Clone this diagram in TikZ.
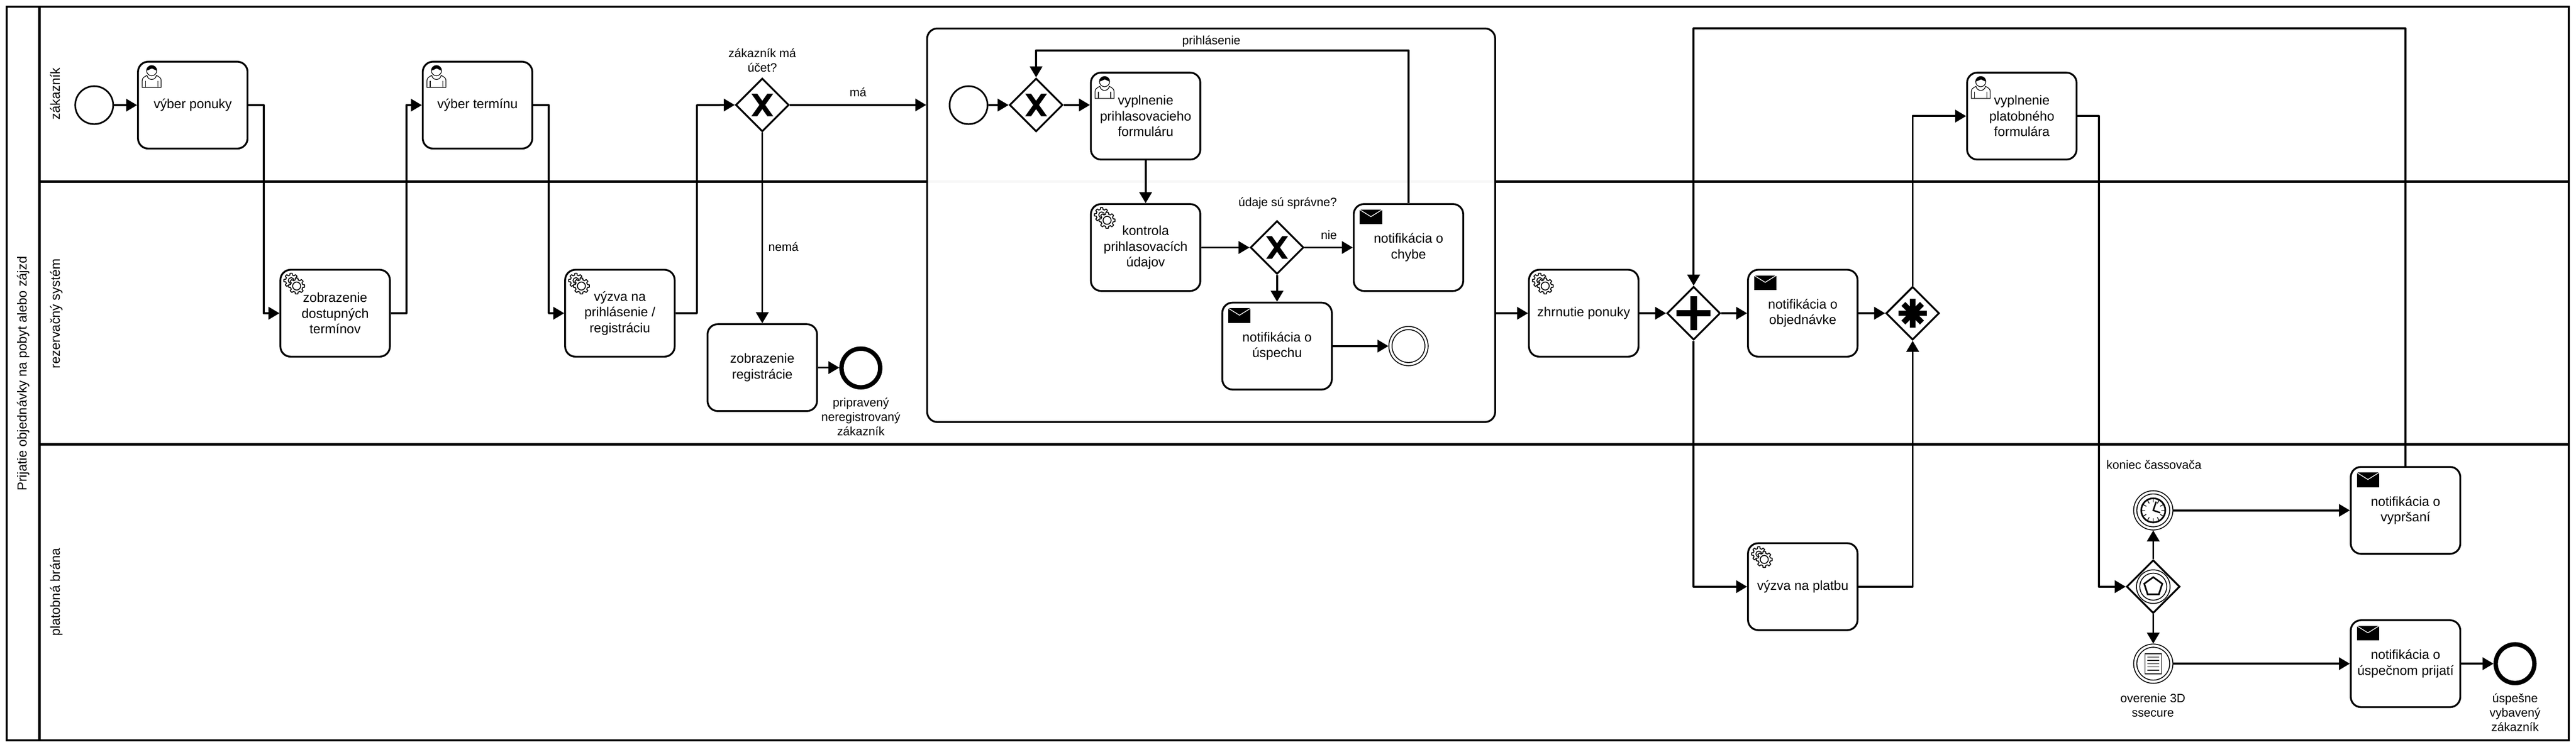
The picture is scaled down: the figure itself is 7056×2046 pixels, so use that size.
\documentclass[tikz,border=0pt]{standalone}
\usepackage{fontspec}
\setmainfont{Liberation Sans}
\usetikzlibrary{arrows.meta,shapes.geometric}

\tikzset{
  lane/.style={line width=6pt},
  lanelabel/.style={rotate=90,anchor=base,inner sep=0pt,font=\fontsize{36}{43}\selectfont},
  task/.style={draw,fill=white,rounded corners=28pt,line width=5pt,minimum width=300pt,minimum height=238pt,
    inner sep=0pt,align=center,font=\fontsize{36}{43}\selectfont},
  subproc/.style={draw,fill=white,fill opacity=0.97,rounded corners=28pt,line width=5pt,inner sep=0pt,
    minimum width=1556pt,minimum height=1078pt},
  gateway/.style={draw,fill=white,diamond,aspect=1,line width=5pt,minimum size=146pt,inner sep=0pt},
  startev/.style={draw,fill=white,circle,line width=4.5pt,minimum size=104pt,inner sep=0pt},
  endev/.style={draw,fill=white,circle,line width=12pt,minimum size=106pt,inner sep=0pt},
  doubleev/.style={draw,fill=white,circle,line width=2.6pt,double,double distance=6pt,outer sep=5.6pt,
    minimum size=98.8pt,inner sep=0pt},
  lbl/.style={inner sep=0pt,align=center,font=\fontsize{33}{39.5}\selectfont},
  flow/.style={line width=5.3pt,line join=round,-{Triangle[length=30pt,width=34pt]}},
  % Task icons, origin at the corner of the task
  usericon/.pic={
    \begin{scope}[shift={(14,13)},line width=1.8pt]
      \draw (0,60) -- (0,42) .. controls (0,34) and (4,32) .. (13,27) .. controls (16,42) and (36,42) .. (39,27)
        .. controls (48,32) and (52,34) .. (52,42) -- (52,60) -- cycle;
      \draw (9,42) -- (9,60);
      \draw (43,42) -- (43,60);
      \draw[fill=white] (26,14) circle[radius=14];
      \fill (12,14) .. controls (12,-4) and (40,-4) .. (40,14) .. controls (32,12) and (28,6) .. (24,9)
        .. controls (20,12) and (16,12) .. cycle;
    \end{scope}
  },
  gearicon/.pic={
    \begin{scope}[line width=2.5pt,line join=round]
      \draw[fill=white,shift={(32,32)}] (-22.5:15) \foreach \a in {0,45,...,315} {
        -- (\a-14:15) -- (\a-9:20) -- (\a+9:20) -- (\a+14:15) -- (\a+22.5:15)} -- cycle (0,0) circle[radius=8];
      \draw[fill=white,shift={(47,47)}] (-22.5:17) \foreach \a in {0,45,...,315} {
        -- (\a-14:17) -- (\a-9:22) -- (\a+9:22) -- (\a+14:17) -- (\a+22.5:17)} -- cycle (0,0) circle[radius=11];
    \end{scope}
  },
  mailicon/.pic={
    \fill (19,18) rectangle (80,58);
    \draw[white,line width=2pt] (19,18) -- (49.5,37) -- (80,18);
  },
  % Gateway markers
  xmark/.pic={
    \fill (-30,-31) -- (-14,-31) -- (30,31) -- (14,31) -- cycle;
    \fill (30,-31) -- (14,-31) -- (-30,31) -- (-14,31) -- cycle;
  },
  plusmark/.pic={
    \fill (-46.5,-9) rectangle (46.5,9);
    \fill (-9,-46.5) rectangle (9,46.5);
  },
  starmark/.pic={
    \foreach \a/\r in {0/39,90/39,45/36,135/36} {
      \draw[line width=15pt] (\a:-\r) -- (\a:\r);
    }
  },
  pentamark/.pic={
    \draw[line width=2.4pt] (0,0) circle[radius=46] (0,0) circle[radius=37];
    \draw[line width=4.5pt] (-90:26) -- (-18:26) -- (54:26) -- (126:26) -- (198:26) -- cycle;
  },
  % Event markers
  clockmark/.pic={
    \draw[line width=4.5pt] (0,0) circle[radius=33];
    \foreach \a in {0,30,...,330} {
      \draw[line width=2pt] (\a:22) -- (\a:33);
    }
    \draw[line width=4pt] (8,-24) -- (0,0) -- (19,6.5);
  },
  docmark/.pic={
    \draw[line width=2.5pt] (-22.5,-27.5) rectangle (22.5,27.5);
    \foreach \y in {-18,-9,0,9,18} {
      \draw[line width=2pt] (-16,\y) -- (16,\y);
    }
  }
}

\begin{document}
\begin{tikzpicture}[x=1pt,y=-1pt]
\useasboundingbox (0,0) rectangle (7056,2046);

% Pool and lanes
\draw[lane] (18,18) rectangle (7036,2028);
\draw[lane] (108,18) -- (108,2028);
\draw[lane] (108,497.5) -- (7036,497.5);
\draw[lane] (108,1217) -- (7036,1217);
\node[lanelabel] (poollabel) at (73,1023) {Prijatie objednávky na pobyt alebo zájzd};
\node[lanelabel] (zakaznik) at (164,257) {zákazník};
\node[lanelabel] (rezervacny) at (164,859) {rezervačný systém};
\node[lanelabel] (platobna) at (164,1622) {platobná brána};

% Subprocess
\node[subproc] (subproc) at (3317.5,617) {};

% Tasks
\node[task] (vyberponuky) at (528,288) {výber ponuky};
\node[task] (vybertermin) at (1308,288) {výber termínu};
\node[task] (dostupne) at (918,858) {zobrazenie\\dostupných\\termínov};
\node[task] (vyzva) at (1698,858) {výzva na\\prihlásenie /\\registráciu};
\node[task] (registracia) at (2088,1007) {zobrazenie\\registrácie};
\node[task] (vyplnenie) at (3138,318) {vyplnenie\\prihlasovacieho\\formuláru};
\node[task] (kontrola) at (3138,678) {kontrola\\prihlasovacích\\údajov};
\node[task] (chyba) at (3858,678) {notifikácia o\\chybe};
\node[task] (uspech) at (3498,948) {notifikácia o\\úspechu};
\node[task] (zhrnutie) at (4338,858) {zhrnutie ponuky};
\node[task] (objednavka) at (4938,858) {notifikácia o\\objednávke};
\node[task] (platobny) at (5538,318) {vyplnenie\\platobného\\formulára};
\node[task] (platba) at (4938,1607) {výzva na platbu};
\node[task] (vyprsani) at (6589,1398) {notifikácia o\\vypršaní};
\node[task] (prijati) at (6589,1818) {notifikácia o\\úspečnom prijatí};

% Gateways
\node[gateway] (maucet) at (2088,287.5) {};
\node[gateway] (prihlas) at (2838,287.5) {};
\node[gateway] (spravne) at (3498,678) {};
\node[gateway] (parallel) at (4639,858) {};
\node[gateway] (komplex) at (5239,858) {};
\node[gateway] (udalost) at (5898,1607) {};

% Events
\node[startev] (start) at (258,288) {};
\node[startev] (startsub) at (2653,288) {};
\node[endev] (neregistrovany) at (2358,1008) {};
\node[doubleev] (endsub) at (3858,948) {};
\node[doubleev] (casovac) at (5898,1398) {};
\node[doubleev] (overenie) at (5898,1818) {};
\node[endev] (vybaveny) at (6889,1818) {};

% Icons
\foreach \n in {vyberponuky,vybertermin,vyplnenie,platobny} {
  \pic at (\n.north west) {usericon};
}
\foreach \n in {dostupne,vyzva,kontrola,zhrnutie,platba} {
  \pic at (\n.north west) {gearicon};
}
\foreach \n in {chyba,uspech,objednavka,vyprsani,prijati} {
  \pic at (\n.north west) {mailicon};
}
\foreach \n in {maucet,prihlas,spravne} {
  \pic at (\n) {xmark};
}
\pic at (parallel) {plusmark};
\pic at (komplex) {starmark};
\pic at (udalost) {pentamark};
\pic at (casovac) {clockmark};
\pic at (overenie) {docmark};

% Bends
\coordinate (bend1) at (722,858);
\coordinate (bend2) at (1113,288);
\coordinate (bend3) at (1503,858);
\coordinate (bend4) at (1909,288);
\coordinate (bend5) at (5749,1607);
\coordinate (looplogin) at (2838,138);
\coordinate (looppay) at (4639,78);

% Sequence flows
\draw[flow] (start) -- (vyberponuky);
\draw[flow] (vyberponuky.east) -| (bend1) -- (dostupne.west);
\draw[flow] (dostupne.east) -| (bend2) -- (vybertermin.west);
\draw[flow] (vybertermin.east) -| (bend3) -- (vyzva.west);
\draw[flow] (vyzva.east) -| (bend4) -- (maucet.west);
\draw[flow] (maucet.east) -- (maucet.east -| subproc.west);
\draw[flow] (maucet.south) -- (registracia.north);
\draw[flow] (registracia.east) -- (registracia.east -| neregistrovany.west);
\draw[flow] (startsub) -- (prihlas);
\draw[flow] (prihlas.east) -- (prihlas.east -| vyplnenie.west);
\draw[flow] (vyplnenie.south) -- (kontrola.north);
\draw[flow] (kontrola.east) -- (spravne.west);
\draw[flow] (spravne.east) -- (chyba.west);
\draw[flow] (spravne.south) -- (uspech.north);
\draw[flow] (uspech.east) -- (endsub);
\draw[flow] (chyba.north) |- (looplogin) -- (prihlas.north);
\draw[flow] (subproc.east |- zhrnutie.west) -- (zhrnutie.west);
\draw[flow] (zhrnutie.east) -- (parallel.west);
\draw[flow] (parallel.east) -- (objednavka.west);
\draw[flow] (objednavka.east) -- (komplex.west);
\draw[flow] (komplex.north) |- (platobny.west);
\draw[flow] (parallel.south) |- (platba.west);
\draw[flow] (platba.east) -| (komplex.south);
\draw[flow] (platobny.east) -| (bend5) -- (udalost.west);
\draw[flow] (udalost.north) -- (casovac.south);
\draw[flow] (udalost.south) -- (overenie.north);
\draw[flow] (casovac.east) -- (vyprsani.west);
\draw[flow] (overenie.east) -- (prijati.west);
\draw[flow] (prijati.east) -- (vybaveny.west);
\draw[flow] (vyprsani.north) |- (looppay) -- (parallel.north);

% Labels
\node[lbl] (otazka) at (2088,165) {zákazník má\\účet?};
\node[lbl] (ma) at (2350,253) {má};
\node[lbl] (nema) at (2146,676) {nemá};
\node[lbl] (prihlasenie) at (3318,113) {prihlásenie};
\node[lbl] (udaje) at (3527,556) {údaje sú správne?};
\node[lbl] (nie) at (3640,643) {nie};
\node[lbl] (pripraveny) at (2358,1142) {pripravený\\neregistrovaný\\zákazník};
\node[lbl] (koniec) at (5900,1273) {koniec čassovača};
\node[lbl] (ssecure) at (5897,1932) {overenie 3D\\ssecure};
\node[lbl] (uspesne) at (6889,1952) {úspešne\\vybavený\\zákazník};
\end{tikzpicture}
\end{document}
